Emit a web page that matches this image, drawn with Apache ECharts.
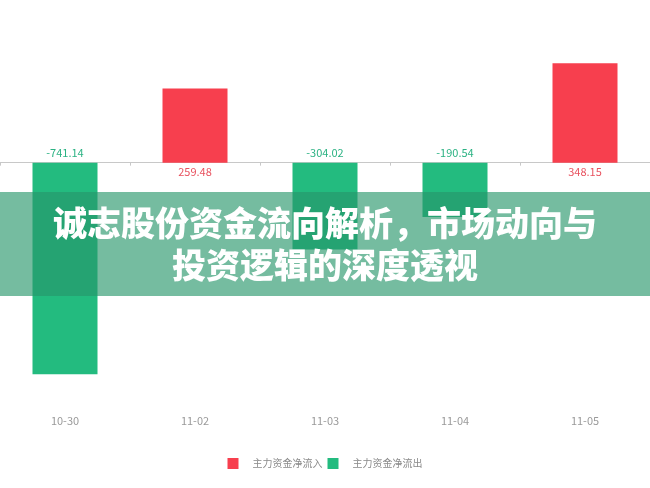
<!DOCTYPE html>
<html>
<head>
<meta charset="utf-8">
<script src="https://cdn.jsdelivr.net/npm/echarts@6/dist/echarts.min.js"></script>
<style>
html,body{margin:0;padding:0;background:#fff;}
#c{width:650px;height:488px;}
</style>
</head>
<body>
<div id="c"></div>
<script>
var categories = ['10-30', '11-02', '11-03', '11-04', '11-05'];
var values = [-741.14, 259.48, -304.02, -190.54, 348.15];
var seriesNames = ['主力资金净流入', '主力资金净流出'];
var titleLines = ['诚志股份资金流向解析，市场动向与', '投资逻辑的深度透视'];

var inflow = values.map(function (v) { return v > 0 ? v : '-'; });
var outflow = values.map(function (v) { return v < 0 ? v : '-'; });

var RED = '#f73f4e';
var GREEN = '#23bb7f';
var FONT = '"Noto Sans CJK SC", "Noto Sans", sans-serif';

var chart = echarts.init(document.getElementById('c'), null, {renderer: 'canvas'});
chart.setOption({
  animation: false,
  backgroundColor: '#ffffff',
  textStyle: {fontFamily: FONT},
  grid: {left: 0, right: 0, top: 48.5, bottom: 97, containLabel: false},
  legend: {
    bottom: 14,
    left: 'center',
    itemWidth: 11,
    itemHeight: 11,
    itemGap: 5,
    icon: 'rect',
    textStyle: {color: '#8a8a8a', fontSize: 10, padding: [0, 0, 0, 9]},
    data: seriesNames
  },
  xAxis: [{
    type: 'category',
    data: categories,
    axisLine: {onZero: true, lineStyle: {color: '#c8c8c8', width: 1}},
    axisTick: {show: true, length: 3, lineStyle: {color: '#c8c8c8'}},
    axisLabel: {show: false}
  }, {
    type: 'category',
    data: categories,
    position: 'bottom',
    offset: 16,
    axisLine: {show: false},
    axisTick: {show: false},
    axisLabel: {color: '#9a9a9a', fontSize: 11}
  }],
  yAxis: {
    type: 'value',
    min: -800,
    max: 400,
    show: false,
    splitLine: {show: false}
  },
  series: [{
    name: seriesNames[0],
    type: 'bar',
    stack: 'total',
    barWidth: '50%',
    data: inflow,
    itemStyle: {color: RED},
    label: {show: true, position: 'bottom', distance: 4, color: '#e8525f', fontSize: 11}
  }, {
    name: seriesNames[1],
    type: 'bar',
    stack: 'total',
    barWidth: '50%',
    data: outflow,
    itemStyle: {color: GREEN},
    label: {show: true, position: 'top', distance: 4, color: '#2bb283', fontSize: 11}
  }],
  graphic: [{
    type: 'rect',
    z: 100,
    shape: {x: 0, y: 192, width: 650, height: 104},
    style: {fill: 'rgba(39,150,106,0.64)'}
  }, {
    type: 'text',
    z: 101,
    x: 325,
    y: 244,
    style: {
      text: titleLines.join('\n'),
      fill: '#ffffff',
      font: '900 34px ' + FONT,
      lineHeight: 42,
      align: 'center',
      verticalAlign: 'middle'
    }
  }]
});
</script>
</body>
</html>
